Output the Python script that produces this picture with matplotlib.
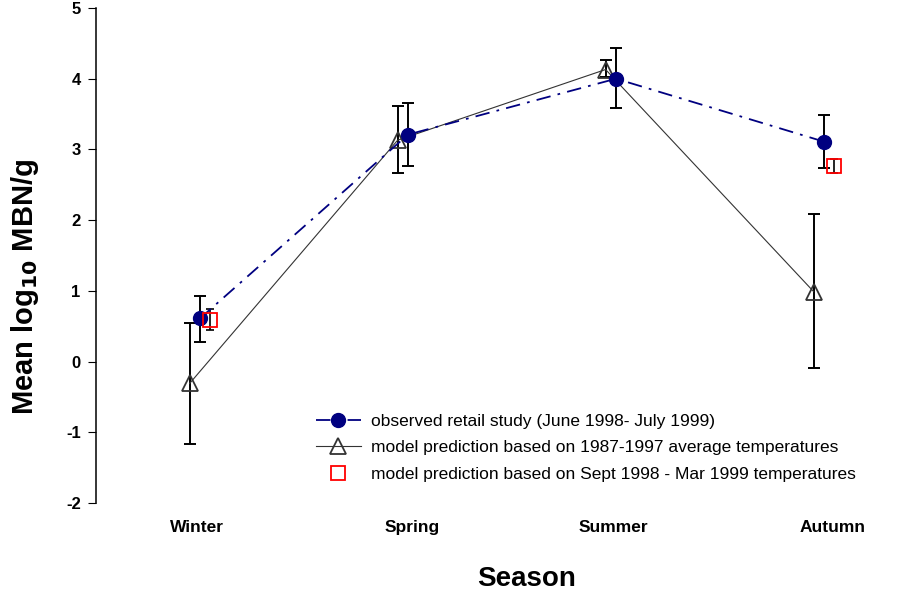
import numpy as np
import matplotlib
matplotlib.use("Agg")
import matplotlib.pyplot as plt

plt.rcParams["font.family"] = ["Liberation Sans", "DejaVu Sans"]
plt.rcParams["axes.unicode_minus"] = False

# data
seasons = ["Winter", "Spring", "Summer", "Autumn"]
obs_mean = [0.61, 3.21, 4.00, 3.11]
obs_hi = [0.93, 3.65, 4.43, 3.48]
obs_lo = [0.27, 2.76, 3.59, 2.74]

mod_mean = [-0.31, 3.13, 4.13, 0.99]
mod_hi = [0.54, 3.62, 4.27, 2.09]
mod_lo = [-1.17, 2.66, 4.02, -0.09]

# Sept 98 - Mar 99 model, only winter and autumn
sep_idx = [0, 3]
sep_mean = [0.59, 2.77]
sep_hi = [0.75, 2.86]
sep_lo = [0.44, 2.67]

x = np.arange(1, len(seasons) + 1)
x_mod = x - 0.05
x_sep = x[sep_idx] + 0.05

fig = plt.figure(figsize=(9.15, 5.91), dpi=100)
ax = fig.add_axes([96/915, 88/591, (910-96)/915, (503-8)/591])

def err(m, lo, hi):
    m, lo, hi = np.array(m), np.array(lo), np.array(hi)
    return [m - lo, hi - m]

ax.errorbar(x, obs_mean, yerr=err(obs_mean, obs_lo, obs_hi), fmt="none",
            ecolor="black", elinewidth=1.4, capsize=4, capthick=1.4, zorder=2)
ax.errorbar(x_mod, mod_mean, yerr=err(mod_mean, mod_lo, mod_hi), fmt="none",
            ecolor="black", elinewidth=1.4, capsize=4, capthick=1.4, zorder=2)
ax.errorbar(x_sep, sep_mean, yerr=err(sep_mean, sep_lo, sep_hi), fmt="none",
            ecolor="black", elinewidth=1.2, capsize=3, capthick=1.2, zorder=2)

ax.plot(x, obs_mean, color="#000080", ls=(0, (8, 4, 1.5, 4)), lw=1.3,
        marker="o", ms=10, mfc="#000080", mec="#000080", zorder=4,
        label="observed retail study (June 1998- July 1999)")
ax.plot(x_mod, mod_mean, color="#333333", ls="-", lw=0.8,
        marker="^", ms=11, mfc="none", mec="#333333", mew=1.3, zorder=3,
        label="model prediction based on 1987-1997 average temperatures")
ax.plot(x_sep, sep_mean, ls="none", marker="s", ms=9.5, mfc="none",
        mec="red", mew=1.3, zorder=5,
        label="model prediction based on Sept 1998 - Mar 1999 temperatures")

ax.set_xlim(0.5, 0.5 + (910-96)/208)
ax.set_ylim(-2, 5)
ax.set_yticks(range(-2, 6))
# label centres sit slightly off the data positions in the original
ax.set_xticks([0.986, 2.019, 2.986, 4.04])
ax.set_xticklabels(seasons, fontsize=12.5, fontweight="bold")
ax.tick_params(axis="x", length=0, pad=12)
ax.tick_params(axis="y", length=6, direction="out", labelsize=12, pad=5)
for lab in ax.get_yticklabels():
    lab.set_fontweight("bold")
for s in ["top", "right", "bottom"]:
    ax.spines[s].set_visible(False)
ax.spines["left"].set_linewidth(1.1)

ax.set_xlabel("Season", fontsize=20, fontweight="bold", va="center")
ax.xaxis.set_label_coords((527-96)/814, -(579-503)/495)
ax.set_ylabel(r"Mean log$_{\mathbf{10}}$ MBN/g", fontsize=21,
              fontweight="bold", va="center")
ax.yaxis.set_label_coords(-(96-25)/814, (503-287)/495)

ax.legend(loc="upper left", bbox_to_anchor=((300-96)/814, (503-398)/495),
          frameon=False, fontsize=12.5, handlelength=2.6, labelspacing=0.65,
          handletextpad=0.6)

fig.savefig("out.png", dpi=100)
